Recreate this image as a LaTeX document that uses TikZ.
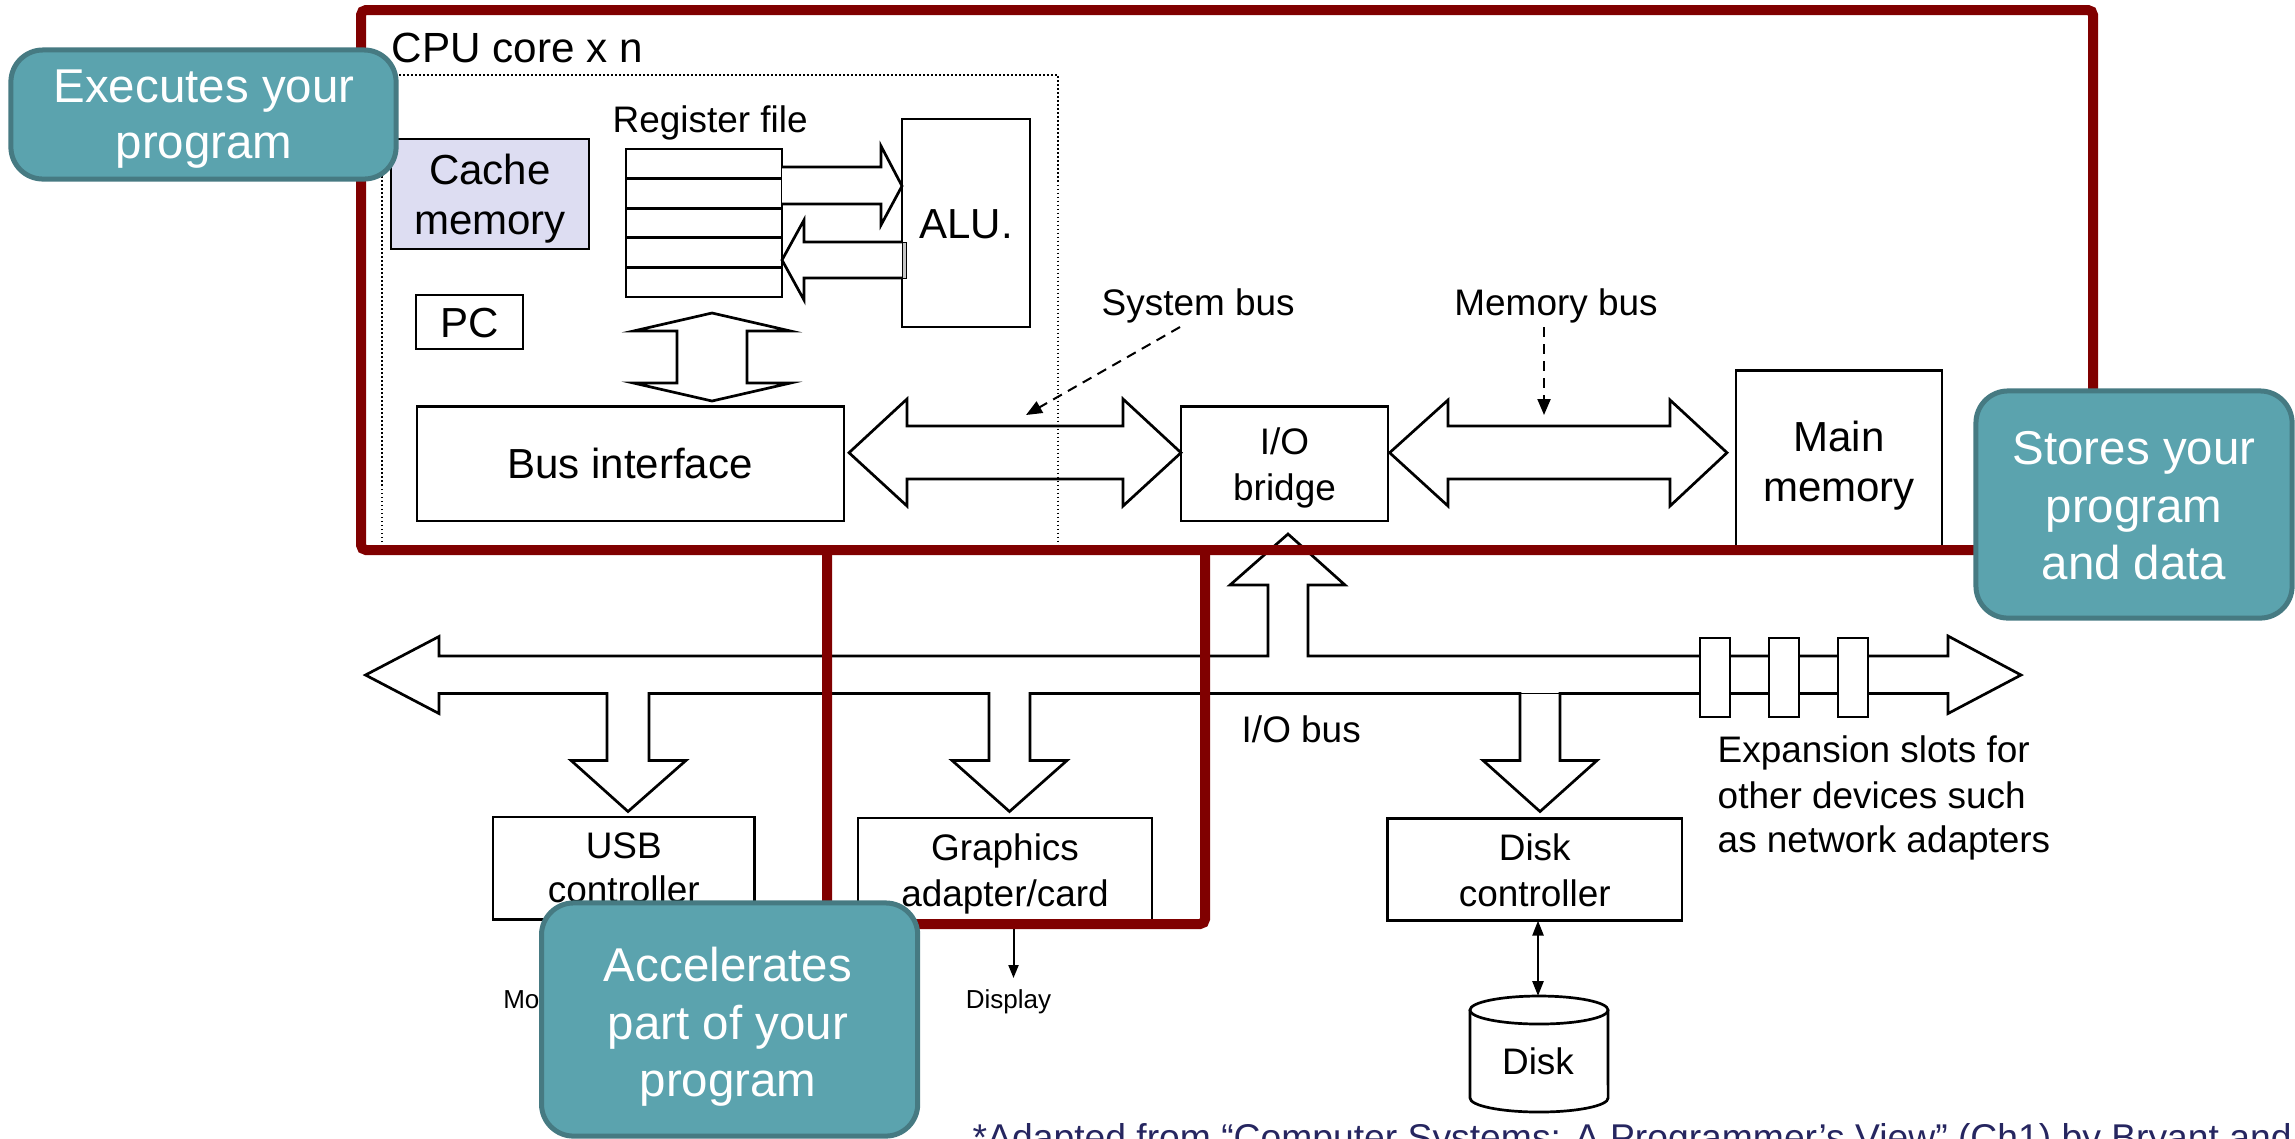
\documentclass[tikz,border=0pt]{standalone}
\usepackage{fontspec}
\setmainfont{Liberation Sans}
\usetikzlibrary{arrows.meta}
\definecolor{cpured}{RGB}{128,0,0}
\definecolor{tealfill}{RGB}{91,163,174}
\definecolor{tealedge}{RGB}{70,122,130}
\definecolor{cachefill}{RGB}{221,221,242}
\definecolor{credit}{RGB}{38,38,96}
\begin{document}
\begin{tikzpicture}[x=0.01cm,y=-0.01cm,
  blk/.style={draw=black, line width=0.027cm, fill=white, inner sep=0pt},
  blkarrow/.style={draw=black, line width=0.027cm, fill=white, line join=miter},
  lbl/.style={inner sep=0pt, anchor=base, font=\fontsize{10.5}{12.6}\selectfont},
  lblw/.style={lbl, anchor=base west},
  big/.style={inner sep=0pt, anchor=base, font=\fontsize{11.95}{14.3}\selectfont},
  tiny/.style={inner sep=0pt, anchor=base, font=\fontsize{7.4}{8.9}\selectfont},
  callout/.style={draw=tealedge, fill=tealfill, line width=0.05cm, rounded corners=0.32cm, inner sep=0pt},
  callouttext/.style={inner sep=0pt, anchor=base, text=white, font=\fontsize{13.5}{16.2}\selectfont},
  pointer/.style={draw, line width=0.02cm, dash pattern=on 0.1cm off 0.07cm, -{Triangle[length=0.16cm,width=0.13cm]}},
  thinptr/.style={draw, line width=0.02cm, -{Triangle[length=0.13cm,width=0.1cm]}},
  cpuframe/.style={draw=cpured, line width=0.1cm, rounded corners=0.05cm}]
\useasboundingbox (0,0) rectangle (2295,1138);
\clip (0,0) rectangle (2295,1138);

% ---------- CPU core contents ----------
\node[blk, fill=cachefill, minimum width=1.98cm, minimum height=1.10cm] (cache) at (490,194) {};
\node[big] (cacheA) at (490,184) {Cache};
\node[big] (cacheB) at (490,234) {memory};

\node[blk, minimum width=1.07cm, minimum height=0.54cm] (pc) at (469.5,322) {};
\node[big] (pctext) at (469.5,337) {PC};

% register file: five stacked registers
\node[lblw] (reglabel) at (612,132.7) {Register file};
\node[blk, minimum width=1.56cm, minimum height=1.48cm] (regs) at (704,223) {};
\foreach \yy in {178.6,208.2,237.8,267.4}
  \draw[line width=0.027cm] (626,\yy) -- (782,\yy);

\node[blk, minimum width=1.28cm, minimum height=2.08cm] (alu) at (966,223) {};
\node[big] (alutext) at (966,238.6) {ALU.};

% operands into the ALU, result back to the registers
\draw[blkarrow] (782,167) -- (881,167) -- (881,146) -- (902,186) -- (881,225) -- (881,204) -- (782,204);
\draw[blkarrow] (902,242) -- (804,242) -- (804,220) -- (782,260) -- (804,300) -- (804,278) -- (902,278);
\draw[line width=0.01cm, fill=gray!45] (902,242) rectangle (906.5,278);

% registers <-> bus interface
\draw[blkarrow] (712,313) -- (790.5,331) -- (747,331) -- (747,383) -- (790.5,383) -- (712,401)
  -- (633.5,383) -- (677,383) -- (677,331) -- (633.5,331) -- cycle;

\node[blk, minimum width=4.27cm, minimum height=1.145cm] (busif) at (630.5,463.75) {};
\node[big] (busiftext) at (630,478.6) {Bus interface};

% ---------- system bus and memory bus ----------
\node[blk, minimum width=2.07cm, minimum height=1.145cm] (bridge) at (1284.5,463.75) {};
\node[lbl] (bridgeA) at (1284.5,454) {I/O};
\node[lbl] (bridgeB) at (1284.5,500) {bridge};

\node[blk, minimum width=2.06cm, minimum height=1.795cm] (mainmem) at (1839,460.25) {};
\node[big] (mainA) at (1839,451) {Main};
\node[big] (mainB) at (1839,501) {memory};

\draw[blkarrow] (849,452.7) -- (907,399) -- (907,426) -- (1123,426) -- (1123,399) -- (1181,452.7)
  -- (1123,506) -- (1123,479) -- (907,479) -- (907,506) -- cycle;
\draw[blkarrow] (1389.6,452.7) -- (1448,400) -- (1448,426) -- (1670,426) -- (1670,400) -- (1727,452.7)
  -- (1670,506) -- (1670,479) -- (1448,479) -- (1448,506) -- cycle;

\node[lblw] (sysbus) at (1101,315) {System bus};
\node[lbl] (membus) at (1556,315) {Memory bus};
\coordinate (sysbusfrom) at (1180,327);
\coordinate (sysbusto) at (1026,415);
\coordinate (membusfrom) at (1544,327);
\coordinate (membusto) at (1544,415);
\draw[pointer] (sysbusfrom) -- (sysbusto);
\draw[pointer] (membusfrom) -- (membusto);

% dotted outline of one core
\draw[line width=0.015cm, dash pattern=on 0.015cm off 0.025cm] (382,550) -- (382,75) -- (1058,75) -- (1058,550);

% ---------- I/O bus with its branches ----------
\draw[blkarrow] (365.5,675) -- (439,636.5) -- (439,656) -- (1268,656) -- (1268,585) -- (1230,585)
  -- (1288,534) -- (1345,585) -- (1308,585) -- (1308,656) -- (1948,656) -- (1948,636)
  -- (2021,675) -- (1948,713.5) -- (1948,693.5) -- (1560,693.5) -- (1560,760.4) -- (1597,760.4)
  -- (1540,811.5) -- (1483,760.4) -- (1520,760.4) -- (1520,693.5) -- (1030,693.5) -- (1030,760.4)
  -- (1067,760.4) -- (1009.5,811.5) -- (952,760.4) -- (989,760.4) -- (989,693.5) -- (649,693.5)
  -- (649,760.4) -- (686,760.4) -- (628,811.5) -- (571,760.4) -- (607,760.4) -- (607,693.5)
  -- (439,693.5) -- (439,713.5) -- cycle;
\draw[line width=0.008cm] (1520,693.5) -- (1560,693.5);
\foreach \sx in {1700,1769,1838}
  \draw[line width=0.027cm, fill=white] (\sx,638) rectangle (\sx+30,717);
\node[lblw] (iobus) at (1241,742) {I/O bus};
\node[lblw] (expA) at (1717,762.6) {Expansion slots for};
\node[lblw] (expB) at (1717,808) {other devices such};
\node[lblw] (expC) at (1717,852.7) {as network adapters};

% ---------- controllers and devices ----------
\node[blk, minimum width=2.615cm, minimum height=1.025cm] (usb) at (623.75,868.25) {};
\node[lbl] (usbA) at (623.75,858.5) {USB};
\node[lbl] (usbB) at (623.75,902.3) {controller};

\node[blk, minimum width=2.94cm, minimum height=1.04cm] (gfx) at (1005,870) {};
\node[lbl] (gfxA) at (1005,860.4) {Graphics};
\node[lbl] (gfxB) at (1005,906) {adapter/card};

\node[blk, minimum width=2.945cm, minimum height=1.022cm] (diskctl) at (1534.75,869.5) {};
\node[lbl] (diskctlA) at (1534.75,860.4) {Disk};
\node[lbl] (diskctlB) at (1534.75,906) {controller};

% disk drawn as a cylinder
\draw[line width=0.027cm, fill=white] (1470,1010) -- (1470,1098)
  arc[start angle=180, end angle=360, x radius=0.69cm, y radius=0.14cm] -- (1608,1010);
\draw[line width=0.027cm, fill=white] (1539,1010) ellipse [x radius=0.69cm, y radius=0.14cm];
\node[lbl] (disk) at (1538,1074) {Disk};
\coordinate (diskctlport) at (1538,920.6);
\coordinate (disktop) at (1538,996);
\draw[line width=0.025cm, {Triangle[length=0.15cm,width=0.11cm]}-{Triangle[length=0.15cm,width=0.11cm]}] (diskctlport) -- (disktop);

\node[tiny] (display) at (1008.5,1008) {Display};
\coordinate (gfxport) at (1013.5,924);
\coordinate (displaytop) at (1013.5,978);
\draw[thinptr] (gfxport) -- (displaytop);

\node[tiny, anchor=base west] (mouse) at (502.6,1008) {Mouse};
\coordinate (mousetop) at (548,988);
\coordinate (usbport) at (548,920);
\draw[thinptr] (mousetop) -- (usbport);

% ---------- highlighted regions ----------
\draw[cpuframe] (361,550) -- (361,10) -- (2093,10) -- (2093,550) -- cycle;
\draw[cpuframe] (827,550) -- (827,924) -- (1205,924) -- (1205,550);
\node[inner sep=0pt, anchor=base west, font=\fontsize{12}{14.4}\selectfont] (corelabel) at (391,62) {CPU core x n};

% ---------- callouts ----------
\node[callout, minimum width=3.85cm, minimum height=1.29cm] (exec) at (203.5,114.5) {};
\node[callouttext] (execA) at (204,102.5) {Executes your};
\node[callouttext] (execB) at (204,158) {program};

\node[callout, minimum width=3.16cm, minimum height=2.27cm] (stores) at (2134,504.5) {};
\node[callouttext] (storesA) at (2134,464.6) {Stores your};
\node[callouttext] (storesB) at (2134,522) {program};
\node[callouttext] (storesC) at (2134,579) {and data};

\node[callout, minimum width=3.76cm, minimum height=2.33cm] (accel) at (729.6,1019.5) {};
\node[callouttext] (accelA) at (728,981.7) {Accelerates};
\node[callouttext] (accelB) at (728,1039) {part of your};
\node[callouttext] (accelC) at (728,1096.7) {program};

% source note along the lower edge
\node[inner sep=0pt, anchor=base west, text=credit, font=\fontsize{10.6}{12.7}\selectfont] (credit) at (972,1150)
  {*Adapted from “Computer Systems: A Programmer’s View” (Ch1) by Bryant and};
\end{tikzpicture}
\end{document}
